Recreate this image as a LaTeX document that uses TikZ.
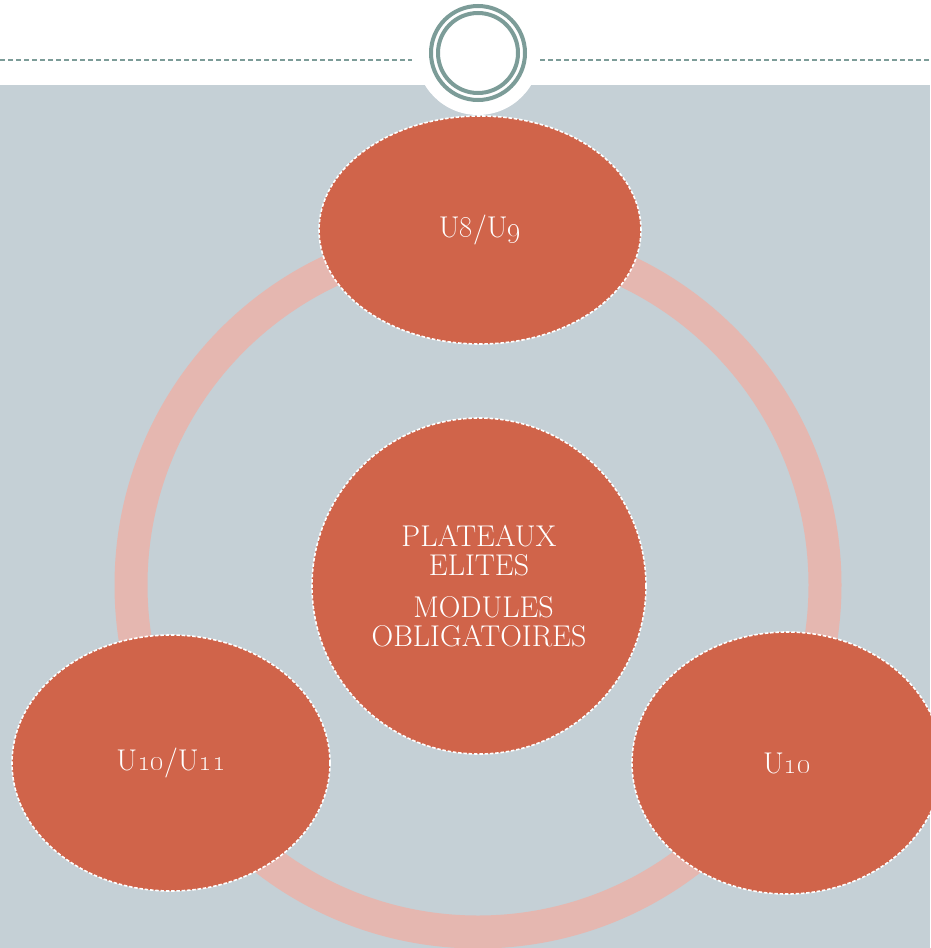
\documentclass[tikz,border=0pt]{standalone}
\usepackage{tikz}
\usetikzlibrary{shapes.geometric}

\definecolor{slidegray}{HTML}{C5D0D6}
\definecolor{ringpink}{HTML}{E5B7B0}
\definecolor{bubbleorange}{HTML}{D0644A}
\definecolor{teal}{HTML}{7C9C98}

\begin{document}
\begin{tikzpicture}[x=1pt,y=-1pt,
    bubble/.style={ellipse,fill=bubbleorange,draw=white,line width=1.6pt,
      dash pattern=on 3.5pt off 1.8pt,inner sep=0pt,text=white,align=center,
      font=\fontsize{30}{29}\selectfont},
    header/.style={draw=teal,line width=1.6pt,dash pattern=on 5pt off 3pt}]
  \useasboundingbox (0,0) rectangle (930,948);
  % slide background and header
  \fill[slidegray] (0,85) rectangle (930,948);
  \fill[white] (478,53) circle[radius=62];
  \draw[header] (0,60) -- (412,60);
  \draw[header] (540,60) -- (930,60);
  \draw[teal,line width=4pt] (478,53) circle[radius=47];
  \draw[teal,line width=4pt] (478,53) circle[radius=40];
  % cycle ring
  \draw[ringpink,line width=33pt] (478,585) circle[radius=347];
  % bubbles
  \node[bubble,minimum width=322pt,minimum height=228pt] (u89) at (480,230) {U\oldstylenums{8}/U\oldstylenums{9}};
  \node[bubble,minimum width=334pt,minimum height=336pt] (plateaux) at (479,586)
    {PLATEAUX\\ELITES\\[13pt]\ MODULES\\OBLIGATOIRES};
  \node[bubble,minimum width=318pt,minimum height=256pt] (u1011) at (171,763) {U\oldstylenums{10}/U\oldstylenums{11}};
  \node[bubble,minimum width=310pt,minimum height=262pt] (u10) at (787,763) {U\oldstylenums{10}};
\end{tikzpicture}
\end{document}
